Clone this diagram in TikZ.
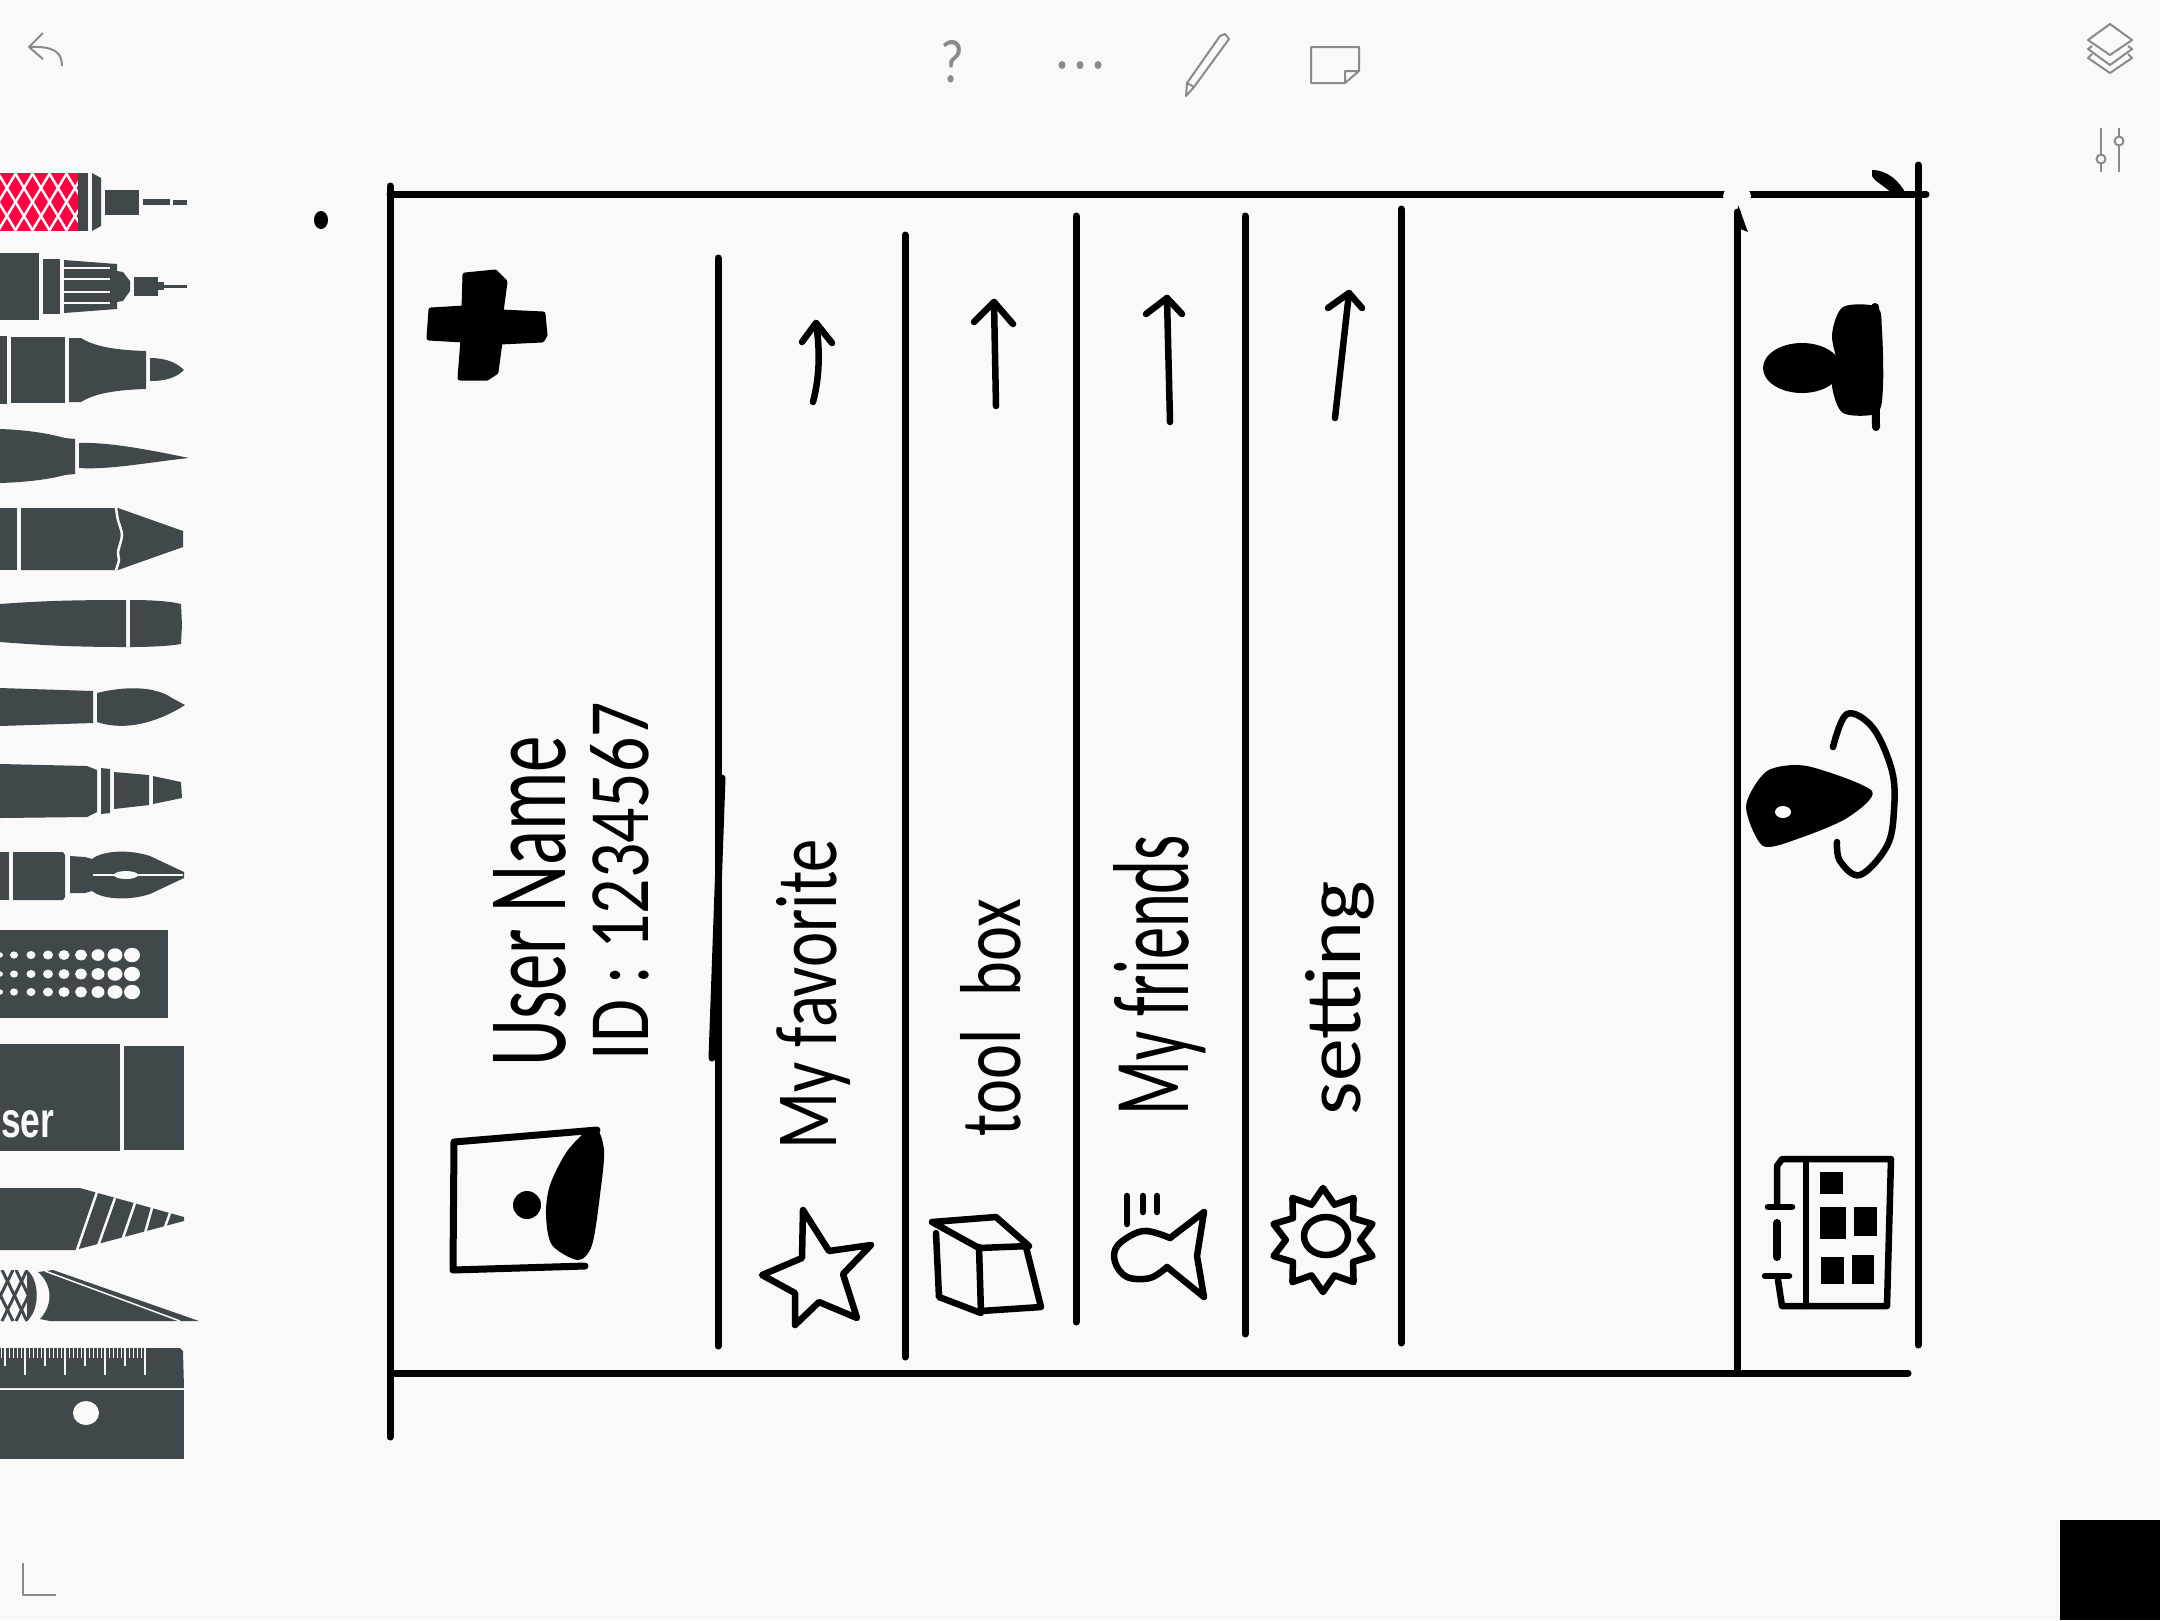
\documentclass[tikz,border=0pt]{standalone}
\usepackage{fontspec}
\setmainfont{Carlito}
\newfontfamily\toolfont{Liberation Sans}
\usetikzlibrary{shapes.geometric}
\definecolor{paper}{HTML}{F9F9F9}
\definecolor{tool}{HTML}{41484B}
\definecolor{pink}{HTML}{FF0040}
\definecolor{chrome}{HTML}{8A8A8A}
\newcommand{\handtext}[3]{\resizebox{#1cm}{#2cm}{#3}}
\begin{document}
\begin{tikzpicture}[x=0.01cm,y=-0.01cm,
	sketch/.style={line width=0.065cm,line cap=round,line join=round},
	rule/.style={line width=0.07cm,line cap=round},
	blob/.style={fill=black,draw=black,line width=0.03cm,line join=round},
	hand/.style={rotate=90,anchor=base west,inner sep=0pt},
	toolfill/.style={fill=tool},
	cut/.style={draw=paper,line width=0.025cm},
	icon/.style={draw=chrome,line width=0.02cm,line join=round}]
	\clip (0,0) rectangle (2160,1620);
	\fill[paper] (0,0) rectangle (2160,1620);
	\fill[black] (2060,1520) rectangle (2160,1620);

	% top bar
	\draw[icon] (43,33) -- (29,47) -- (43,59);
	\draw[icon] (29,47) .. controls (54,46) and (62,52) .. (62,66);
	\node[text=chrome,inner sep=0pt] (helpmark) at (952,62) {\resizebox{0.24cm}{0.42cm}{?}};
	\foreach \x in {1062,1080,1098}
		\fill[chrome] (\x,65) ellipse (3.5 and 4);
	\draw[icon] (1186,96) -- (1187,83) -- (1220,36) -- (1225,34) -- (1229,39) -- (1194,87) -- cycle;
	\draw[icon] (1187,83) -- (1194,87);
	\draw[icon] (1345,83) -- (1311,83) -- (1311,47) -- (1359,47) -- (1359,71) -- (1345,83) -- (1345,71) -- (1359,71);
	\draw[icon] (2110,24) -- (2132,40) -- (2110,55) -- (2088,40) -- cycle;
	\draw[icon] (2092,46) -- (2088,49) -- (2110,65) -- (2132,49) -- (2128,46);
	\draw[icon] (2092,54) -- (2088,58) -- (2110,73) -- (2132,58) -- (2128,54);
	\draw[icon] (2101,128) -- (2101,154) (2101,164) -- (2101,172);
	\draw[icon] (2101,159) circle (4.5);
	\draw[icon] (2119,128) -- (2119,136) (2119,146) -- (2119,172);
	\draw[icon] (2119,141) circle (4.5);
	\draw[icon] (23,1563) -- (23,1595) -- (56,1595);

	% tool shelf
	\fill[pink] (0,173) rectangle (78,231);
	\begin{scope}
		\clip (0,173) rectangle (78,231);
		\foreach \a in {-70,-53,...,90} {
			\draw[cut] (\a,173) -- (\a+35,231);
			\draw[cut] (\a+35,173) -- (\a,231);
		}
	\end{scope}
	\fill[tool] (78,173) rectangle (88,231);
	\fill[tool] (92,173) -- (101,178) -- (101,226) -- (92,231) -- cycle;
	\fill[tool] (105,190) rectangle (139,215);
	\fill[tool] (143,199) rectangle (170,205);
	\fill[tool] (173,200) rectangle (187,205);

	\fill[tool] (0,253) rectangle (39,320);
	\fill[tool] (43,259) rectangle (60,314);
	\fill[tool] (64,260) -- (117,264) -- (117,271) -- (123,272) -- (130,281) -- (130,291) -- (123,301) -- (117,302) -- (117,309) -- (64,313) -- cycle;
	\foreach \y in {268,279,292,303}
		\draw[cut,line width=0.015cm] (64,\y) -- (110,\y);
	\fill[tool] (134,277) rectangle (158,296);
	\fill[tool] (158,282) rectangle (164,290);
	\fill[tool] (164,285) rectangle (187,288);

	\fill[tool] (0,336) rectangle (7,404);
	\fill[tool] (11,337) rectangle (65,403);
	\fill[tool] (69,338) -- (81,338) .. controls (92,345) and (110,350) .. (146,351) -- (146,389) .. controls (110,390) and (92,395) .. (81,402) -- (69,402) -- cycle;
	\fill[tool] (150,358) .. controls (165,358) and (176,362) .. (184,370) .. controls (176,378) and (165,381) .. (150,381) -- cycle;

	\fill[tool] (0,429) .. controls (30,430) and (50,434) .. (65,438) -- (75,439) -- (75,474) -- (65,475) .. controls (50,479) and (30,482) .. (0,483) -- cycle;
	\fill[tool] (79,443) .. controls (110,442) and (150,450) .. (189,458) .. controls (150,462) and (110,470) .. (79,468) -- cycle;

	\fill[tool] (0,508) rectangle (17,570);
	\fill[tool] (21,508) -- (118,508) -- (183,531) -- (183,547) -- (118,570) -- (21,570) -- cycle;
	\draw[cut] plot[smooth] coordinates {(116,508) (118,520) (122,535) (118,552) (119,560) (116,570)};

	\fill[tool] (0,604) .. controls (40,601) and (70,600) .. (126,600) -- (126,647) .. controls (70,647) and (40,645) .. (0,642) -- cycle;
	\fill[tool] (130,600) .. controls (150,600) and (170,601) .. (181,604) -- (182,625) -- (181,644) .. controls (170,646) and (150,647) .. (130,647) -- cycle;

	\fill[tool] (0,688) -- (93,691) -- (93,723) -- (0,726) -- cycle;
	\fill[tool] (97,693) .. controls (125,686) and (155,686) .. (172,698) -- (185,705) .. controls (165,718) and (130,733) .. (97,722) -- cycle;

	\fill[tool] (0,764) -- (87,766) -- (97,770) -- (97,812) -- (87,817) -- (0,818) -- cycle;
	\fill[tool] (101,768) -- (110,769) -- (110,813) -- (101,814) -- cycle;
	\fill[tool] (114,772) -- (149,775) -- (149,805) -- (114,809) -- cycle;
	\fill[tool] (153,776) -- (181,782) -- (182,798) -- (153,804) -- cycle;

	\fill[tool] (0,852) rectangle (9,900);
	\fill[tool] (13,852) -- (63,852) -- (65,855) -- (65,897) -- (63,900) -- (13,900) -- cycle;
	\fill[tool] (70,856) -- (85,857) -- (92,859) .. controls (100,852) and (125,848) .. (150,856) -- (184,872) -- (184,878) -- (150,894) .. controls (125,902) and (100,898) .. (92,891) -- (85,893) -- (70,893) -- cycle;
	\draw[cut,line width=0.012cm] (93,875) -- (183,875);
	\fill[paper] (126,875) ellipse (12 and 4);

	\fill[tool] (0,930) rectangle (168,1018);
	\foreach \x/\r in {132/8,115/7.5,98/6.5,81/6,64/5.5,48/5,31/4.5,14/4,0/3}
		\foreach \y in {955,974,992}
			\fill[paper] (\x,\y) ellipse (\r*1 and \r*0.9);

	\fill[tool] (0,1044) rectangle (120,1151);
	\fill[tool] (124,1046) rectangle (184,1150);
	\node[anchor=base east,inner sep=0pt,text=paper,font=\toolfont\bfseries] (erasername) at (55,1137) {\resizebox{0.53cm}{0.27cm}{ser}};

	\fill[tool] (0,1188) -- (80,1188) -- (184,1217) -- (184,1221) -- (75,1250) -- (0,1250) -- cycle;
	\foreach \xa/\ya/\xb/\yb in {97/1192/77/1250,115/1198/98/1246,135/1203/122/1241,152/1208/145/1233,170/1213/165/1227}
		\draw[cut] (\xa,\ya) -- (\xb,\yb);

	\fill[paper] (0,1270) rectangle (28,1321);
	\begin{scope}
		\clip (0,1270) rectangle (28,1321);
		\foreach \a in {-40,-26,...,40} {
			\draw[tool,line width=0.03cm] (\a,1270) -- (\a+25,1321);
			\draw[tool,line width=0.03cm] (\a+25,1270) -- (\a,1321);
		}
	\end{scope}
	\fill[tool] (27,1270) .. controls (40,1280) and (40,1310) .. (27,1321) -- cycle;
	\fill[tool] (38,1272) -- (53,1270) -- (199,1321) -- (50,1321) -- (40,1319) .. controls (53,1305) and (53,1285) .. (38,1272) -- cycle;
	\draw[cut,line width=0.015cm] (45,1271) -- (180,1321);

	\fill[tool] (0,1348) -- (180,1348) -- (183,1351) -- (184,1388) -- (0,1388) -- cycle;
	\fill[tool] (0,1390) rectangle (184,1459);
	\fill[paper] (86,1413) ellipse (13 and 12);
	\foreach \x in {1,5,...,145}
		\draw[paper,line width=0.008cm] (\x,1348) -- (\x,1358);
	\foreach \x in {5,45,85,125}
		\draw[paper,line width=0.012cm] (\x,1348) -- (\x,1366);
	\foreach \x in {25,65,105,145}
		\draw[paper,line width=0.012cm] (\x,1348) -- (\x,1375);

	% frame
	\fill[black] (321,220) ellipse (7 and 9);
	\draw[rule] (390,186) -- (390,1437);
	\draw[rule] (390,194) -- (1926,194);
	\draw[rule] (395,1373) -- (1908,1373);
	\draw[rule] (1918,165) -- (1918,1345);
	\fill[paper] (1737,196) ellipse (14 and 10);
	\draw[rule] (1737,212) -- (1737,1373);
	\fill[black] (1738,205) .. controls (1742,215) and (1744,222) .. (1748,232) -- (1738,228) -- cycle;
	\fill[black] (1872,170) .. controls (1888,170) and (1900,182) .. (1906,194) -- (1895,196) .. controls (1885,186) and (1875,182) .. (1872,176) -- cycle;
	\foreach \x/\ya/\yb in {718/258/1346,905/235/1357,1076/216/1322,1245/216/1334,1401/209/1343}
		\draw[rule] (\x,\ya) -- (\x,\yb);
	\draw[rule] (722,778) -- (712,1058);

	% plus
	\draw[blob,line width=0.05cm] (465,275) -- (495,272) -- (505,282) -- (501,312) -- (543,314) -- (545,335) -- (542,340) -- (500,342) -- (496,372) -- (487,378) -- (460,378) -- (463,340) -- (429,338) -- (431,310) -- (464,308) -- cycle;

	% user block
	\draw[sketch,line width=0.07cm] (454,1142) -- (597,1130) (454,1142) -- (453,1270) -- (585,1266);
	\fill[black] plot[smooth cycle,tension=0.5] coordinates {(594,1127) (568,1150) (550,1185) (546,1215) (552,1245) (578,1260) (592,1245) (600,1195) (604,1150)};
	\fill[black] (527,1205) circle (14);
	\node[hand] (username) at (565,1067) {\handtext{3.3}{0.72}{User Name}};
	\node[hand] (userid) at (648,1061) {\handtext{3.58}{0.58}{ID : 1234567}};

	% rows
	\node[hand] (favlabel) at (836,1150) {\handtext{3.1}{0.6}{My favorite}};
	\node[hand] (boxlabel) at (1020,1137) {\handtext{2.37}{0.6}{tool\hspace{0.5em}box}};
	\node[hand] (friendlabel) at (1188,1116) {\handtext{2.8}{0.75}{My friends}};
	\node[hand] (setlabel) at (1360,1116) {\handtext{2.34}{0.55}{setting}};

	\draw[sketch] (813,402) .. controls (820,375) and (820,350) .. (816,323);
	\draw[sketch] (802,342) -- (816,323) -- (832,343);
	\foreach \xa/\ya/\xb/\yb/\xc/\yc/\xd/\yd in {996/406/994/302/974/322/1013/324,1170/422/1167/298/1146/314/1182/314,1335/418/1349/293/1328/308/1362/308} {
		\draw[sketch] (\xa,\ya) -- (\xb,\yb);
		\draw[sketch] (\xc,\yc) -- (\xb,\yb) -- (\xd,\yd);
	}

	% star, box, friends, gear
	\draw[sketch] (803,1210) -- (829,1251) -- (871,1245) -- (843,1274) -- (857,1318) -- (819,1302) -- (795,1325) -- (795,1293) -- (762,1275) -- (802,1258) -- cycle;
	\draw[sketch] (932,1222) -- (996,1217) -- (1029,1246) -- (979,1248) -- cycle;
	\draw[sketch] (936,1233) -- (939,1297) -- (981,1313) -- (979,1247);
	\draw[sketch] (1026,1247) -- (1041,1307) -- (981,1311);
	\foreach \x/\y in {1127/1224,1143/1212,1157/1212}
		\draw[sketch] (\x,1196) -- (\x,\y);
	\draw[sketch] plot[smooth,tension=0.6] coordinates {(1170,1238) (1143,1231) (1118,1245) (1115,1262) (1127,1277) (1150,1278) (1167,1267)};
	\draw[sketch] (1170,1238) -- (1204,1212) -- (1197,1256) -- (1204,1297) -- (1167,1267);
	\node[star,star points=10,star point ratio=1.4,draw,sketch,inner sep=0pt,minimum size=1.04cm] (gearicon) at (1323,1240) {};
	\draw[sketch] (1326,1236) ellipse (22 and 19);

	% side icons
	\fill[black] (1802,368) ellipse (39 and 25);
	\fill[black] plot[smooth cycle,tension=0.5] coordinates {(1877,307) (1843,307) (1832,335) (1838,368) (1832,386) (1843,413) (1877,413) (1883,386) (1882,331)};
	\draw[sketch,line width=0.08cm] (1875,307) -- (1876,427);

	\fill[black] plot[smooth cycle,tension=0.45] coordinates {(1872,791) (1807,766) (1767,771) (1746,806) (1763,846) (1800,838) (1847,818)};
	\fill[paper] (1783,812) ellipse (8 and 6);
	\draw[sketch] plot[smooth,tension=0.6] coordinates {(1833,747) (1847,714) (1873,728) (1892,771) (1894,810) (1887,846) (1860,875) (1840,861) (1837,842)};

	\draw[sketch] (1777,1204) -- (1777,1166) -- (1782,1159) -- (1891,1159) -- (1887,1306) -- (1782,1306) -- (1778,1280);
	\draw[sketch] (1806,1159) -- (1806,1306);
	\draw[sketch] (1768,1207) -- (1792,1207);
	\draw[sketch] (1765,1276) -- (1789,1276);
	\draw[sketch,line width=0.08cm] (1777,1223) -- (1777,1257);
	\foreach \xa/\ya/\xb/\yb in {1820/1172/1843/1194,1820/1207/1846/1239,1854/1207/1877/1236,1821/1257/1844/1284,1852/1255/1874/1284}
		\fill[black] (\xa,\ya) rectangle (\xb,\yb);
\end{tikzpicture}
\end{document}
